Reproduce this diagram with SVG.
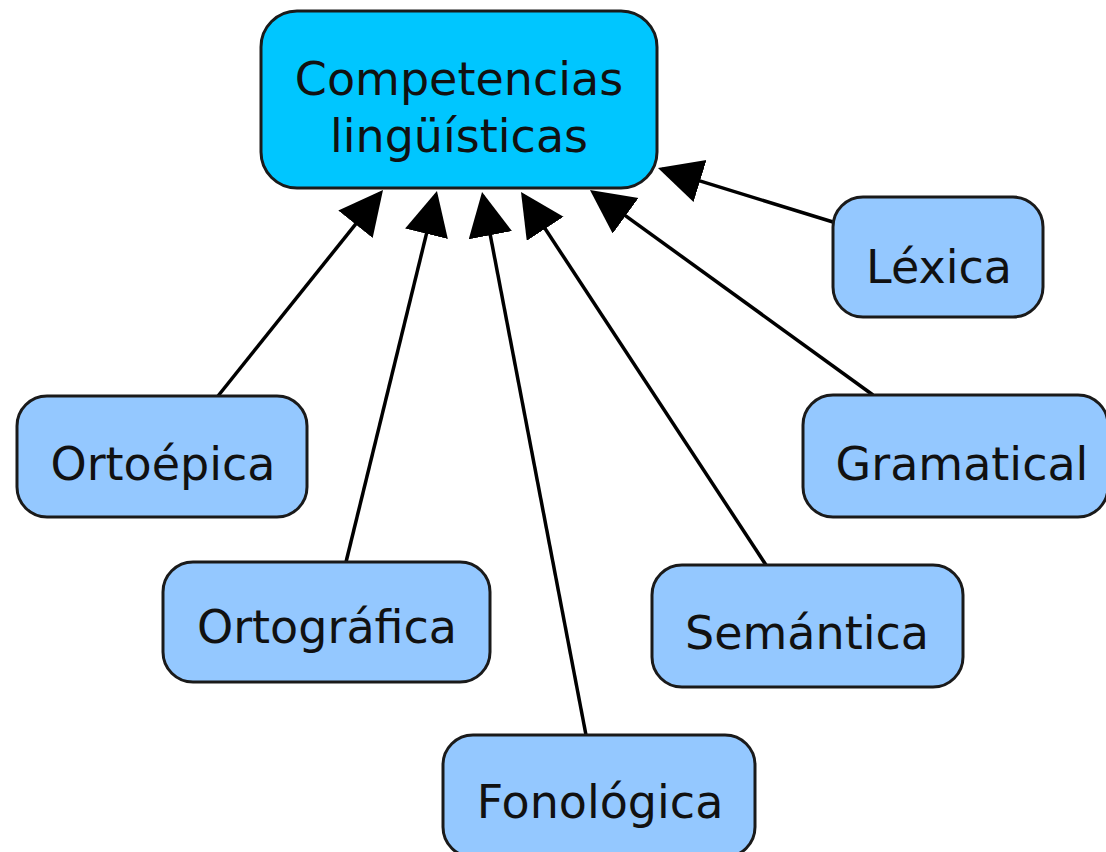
<svg xmlns="http://www.w3.org/2000/svg" width="1106" height="852" viewBox="0 0 1106 852">
<style>
.box{stroke:#1a1a1a;stroke-width:3}
.main{fill:#00c6ff}
.sub{fill:#94c8ff}
text{font-family:"DejaVu Sans","Liberation Sans",sans-serif;font-size:46px;fill:#111;text-anchor:middle}
.conn line{stroke:#000;stroke-width:3.5;fill:none}
</style>
<defs>
<marker id="ah" markerUnits="userSpaceOnUse" markerWidth="48" markerHeight="48" refX="40" refY="22" orient="auto">
<path d="M0,0 L44,22 L0,44 Z" fill="#000"/>
</marker>
</defs>
<rect width="1106" height="852" fill="#fff"/>
<g class="conn">
<line x1="218" y1="396" x2="380.5" y2="193.1" marker-end="url(#ah)"/>
<line x1="346" y1="562" x2="436" y2="194.9" marker-end="url(#ah)"/>
<line x1="586" y1="735" x2="482.8" y2="195.9" marker-end="url(#ah)"/>
<line x1="766" y1="565" x2="523.2" y2="195.3" marker-end="url(#ah)"/>
<line x1="873" y1="395" x2="593.2" y2="192.3" marker-end="url(#ah)"/>
<line x1="833" y1="222" x2="661.8" y2="169.2" marker-end="url(#ah)"/>
</g>
<g id="competencias">
<rect class="box main" x="261" y="11" width="396" height="177" rx="36"/>
<text x="459" y="95">Competencias</text>
<text x="459" y="152">lingüísticas</text>
</g>
<g id="lexica">
<rect class="box sub" x="833" y="197" width="210" height="120" rx="30"/>
<text x="939" y="283">Léxica</text>
</g>
<g id="ortoepica">
<rect class="box sub" x="17" y="396" width="290" height="121" rx="30"/>
<text x="163" y="480">Ortoépica</text>
</g>
<g id="gramatical">
<rect class="box sub" x="803" y="395" width="305" height="122" rx="30"/>
<text x="962" y="480">Gramatical</text>
</g>
<g id="ortografica">
<rect class="box sub" x="163" y="562" width="327" height="120" rx="30"/>
<text x="327" y="643">Ortográfica</text>
</g>
<g id="semantica">
<rect class="box sub" x="652" y="565" width="311" height="122" rx="30"/>
<text x="807" y="649">Semántica</text>
</g>
<g id="fonologica">
<rect class="box sub" x="443" y="735" width="312" height="122" rx="30"/>
<text x="600" y="818">Fonológica</text>
</g>
</svg>
